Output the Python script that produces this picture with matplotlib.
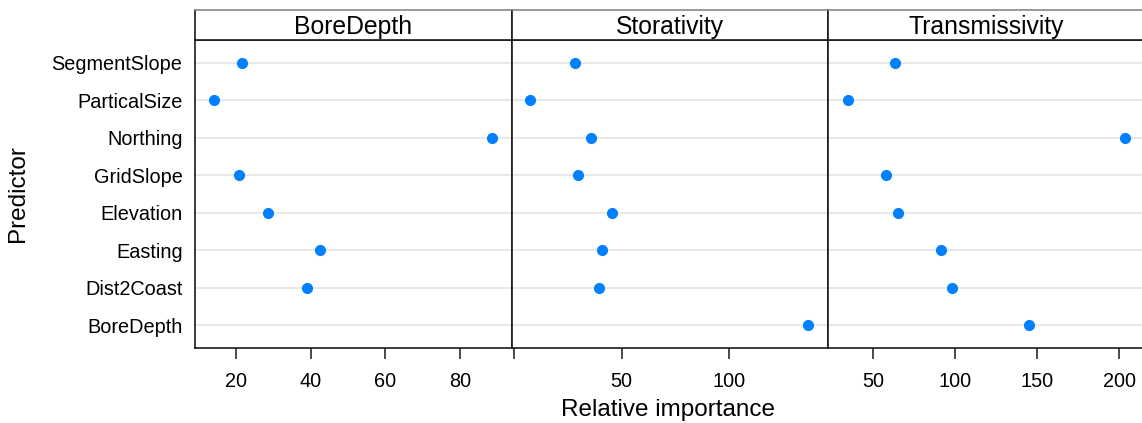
import numpy as np
import matplotlib
matplotlib.use("Agg")
import matplotlib.pyplot as plt

plt.rcParams['font.family'] = ['Liberation Sans', 'DejaVu Sans']

# predictors listed bottom to top
predictors = ["BoreDepth", "Dist2Coast", "Easting", "Elevation",
              "GridSlope", "Northing", "ParticalSize", "SegmentSlope"]
responses = ["BoreDepth", "Storativity", "Transmissivity"]

bore_depth = [np.nan, 39.0, 42.5, 28.6, 20.8, 88.5, 14.0, 21.6]
storativity = [136.7, 39.5, 40.9, 45.4, 29.6, 35.7, 7.5, 28.2]
transmissivity = [144.7, 98.0, 91.3, 65.1, 57.6, 203.7, 34.4, 63.2]
values = [bore_depth, storativity, transmissivity]

xticks = [[20, 40, 60, 80], [0, 50, 100], [50, 100, 150, 200]]
xticklabels = [["20", "40", "60", "80"], ["", "50", "100"], ["50", "100", "150", "200"]]
xlims = [(9.0, 93.8), (-1.2, 145.8), (22.4, 215.4)]

W, H = 1142, 423
fig = plt.figure(figsize=(W / 100, H / 100), dpi=100)

lefts = [195, 511.5, 828]
pw = 316.5
p_top, p_bot, s_top = 40, 348, 10
edge = "#1a1a1a"
dot = "#0080ff"

ypos = np.arange(1, len(predictors) + 1)
for i, resp in enumerate(responses):
    ax = fig.add_axes([lefts[i] / W, (H - p_bot) / H, pw / W, (p_bot - p_top) / H])
    for yy in ypos:
        ax.axhline(yy, color="#e6e6e6", lw=1.3, zorder=1)
    ax.plot(values[i], ypos, "o", color=dot, ms=7, mec=dot, zorder=3, clip_on=False)
    ax.set_xlim(*xlims[i])
    ax.set_ylim(0.4, 8.6)
    ax.set_xticks(xticks[i])
    ax.set_xticklabels(xticklabels[i])
    ax.tick_params(axis="x", direction="out", length=8, width=1.1, color=edge,
                   labelsize=14.3, pad=9)
    if i == 0:
        ax.set_yticks(ypos)
        ax.set_yticklabels(predictors)
        ax.tick_params(axis="y", length=0, labelsize=14.3, pad=9)
    else:
        ax.set_yticks([])
    for sp in ax.spines.values():
        sp.set_color(edge)
        sp.set_linewidth(1.2)

    # strip with the response name
    st = fig.add_axes([lefts[i] / W, (H - p_top) / H, pw / W, (p_top - s_top) / H])
    st.set_xticks([])
    st.set_yticks([])
    for sp in st.spines.values():
        sp.set_color(edge)
        sp.set_linewidth(1.2)
    st.spines["top"].set_color("#888888")
    st.text(0.5, 0.42, resp, ha="center", va="center", fontsize=17.8, transform=st.transAxes)

fig.text(18 / W, 1 - 194 / H, "Predictor", rotation=90, ha="center", va="center", fontsize=17.5)
fig.text(668 / W, 1 - 410 / H, "Relative importance", ha="center", va="center", fontsize=17.5)

fig.savefig("out.png", dpi=100)
